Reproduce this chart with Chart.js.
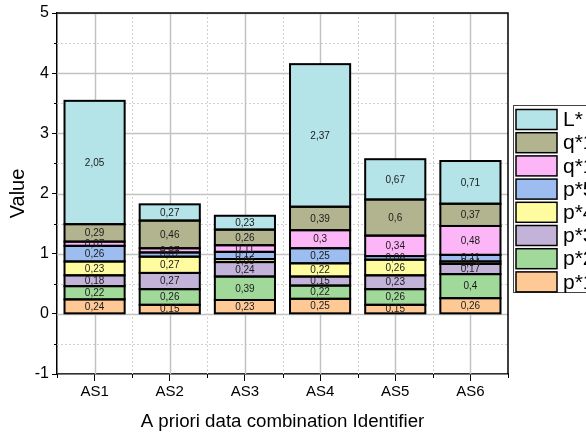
<!DOCTYPE html>
<html>
<head>
<meta charset="utf-8">
<script src="https://cdn.jsdelivr.net/npm/chart.js@4/dist/chart.umd.min.js"></script>
<style>
  html, body { margin: 0; padding: 0; background: #fff; }
  #wrap { width: 586px; height: 434px; }
</style>
</head>
<body>
<div id="wrap"><canvas id="c" width="586" height="434"></canvas></div>
<script>
// Stacked components per data combination (bottom to top)
const categories = ['AS1', 'AS2', 'AS3', 'AS4', 'AS5', 'AS6'];
const p1  = [0.24, 0.15, 0.23, 0.25, 0.15, 0.26];
const p2  = [0.22, 0.26, 0.39, 0.22, 0.26, 0.40];
const p3  = [0.18, 0.27, 0.24, 0.15, 0.23, 0.17];
const p4  = [0.23, 0.27, 0.05, 0.22, 0.26, 0.04];
const p5  = [0.26, 0.07, 0.12, 0.25, 0.06, 0.11];
const q11 = [0.07, 0.07, 0.11, 0.30, 0.34, 0.48];
const q12 = [0.29, 0.46, 0.26, 0.39, 0.60, 0.37];
const Ls  = [2.05, 0.27, 0.23, 2.37, 0.67, 0.71];
const seriesNames = ['p*1', 'p*2', 'p*3', 'p*4', 'p*5', 'q*11', 'q*12', 'L*'];
const seriesColors = ['#ffc996', '#a1d99b', '#c3b3d8', '#fffca0', '#9dbcf0', '#fcb5f6', '#b1b48f', '#b4e3e8'];
const yMin = -1, yMax = 5;

const FONT = "'Liberation Sans', Arial, sans-serif";
const seriesValues = [p1, p2, p3, p4, p5, q11, q12, Ls];

const datasets = seriesNames.map((name, i) => ({
  label: name,
  data: seriesValues[i],
  backgroundColor: seriesColors[i],
  borderWidth: 0,
  barPercentage: 0.8,
  categoryPercentage: 1.0
}));

// Grid lines: solid at majors, dotted at minors
const gridPlugin = {
  id: 'gridLines',
  beforeDatasetsDraw(chart) {
    const { ctx, chartArea: a, scales: { x, y } } = chart;
    ctx.save();
    ctx.beginPath();
    ctx.rect(a.left, a.top, a.right - a.left, a.bottom - a.top);
    ctx.clip();
    // horizontal
    for (let v = yMin; v <= yMax; v += 0.5) {
      const py = Math.round(y.getPixelForValue(v)) + 0.5;
      const major = Number.isInteger(v);
      ctx.beginPath();
      ctx.setLineDash(major ? [] : [2, 2]);
      ctx.lineWidth = major ? 1.5 : 1;
      ctx.strokeStyle = major ? '#c2c2c2' : '#d0d0d0';
      ctx.moveTo(a.left, py);
      ctx.lineTo(a.right, py);
      ctx.stroke();
    }
    // vertical
    const n = categories.length;
    for (let i = 0; i < n; i++) {
      const px = Math.round(x.getPixelForValue(i)) + 0.5;
      ctx.beginPath();
      ctx.setLineDash([]);
      ctx.lineWidth = 1.5;
      ctx.strokeStyle = '#c2c2c2';
      ctx.moveTo(px, a.top);
      ctx.lineTo(px, a.bottom);
      ctx.stroke();
      if (i < n - 1) {
        const bx = Math.round((x.getPixelForValue(i) + x.getPixelForValue(i + 1)) / 2) + 0.5;
        ctx.beginPath();
        ctx.setLineDash([2, 2]);
        ctx.lineWidth = 1;
        ctx.strokeStyle = '#d0d0d0';
        ctx.moveTo(bx, a.top);
        ctx.lineTo(bx, a.bottom);
        ctx.stroke();
      }
    }
    ctx.restore();
  }
};

// Segment outlines centred on edges, then value labels
const segmentPlugin = {
  id: 'segments',
  afterDatasetsDraw(chart) {
    const { ctx } = chart;
    ctx.save();
    ctx.strokeStyle = '#000';
    ctx.lineWidth = 2;
    chart.data.datasets.forEach((ds, di) => {
      chart.getDatasetMeta(di).data.forEach(el => {
        const { x, y, base, width } = el.getProps(['x', 'y', 'base', 'width'], true);
        ctx.strokeRect(x - width / 2, Math.min(y, base), width, Math.abs(base - y));
      });
    });
    ctx.fillStyle = '#1a1a1a';
    ctx.font = '10px ' + FONT;
    ctx.textAlign = 'center';
    ctx.textBaseline = 'middle';
    chart.data.datasets.forEach((ds, di) => {
      chart.getDatasetMeta(di).data.forEach((el, j) => {
        const { x, y, base } = el.getProps(['x', 'y', 'base'], true);
        const txt = String(ds.data[j]).replace('.', ',');
        ctx.fillText(txt, x, (y + base) / 2 + 0.5);
      });
    });
    ctx.restore();
  }
};

// Frame, minor ticks and legend
const framePlugin = {
  id: 'frame',
  afterDraw(chart) {
    const { ctx, chartArea: a, scales: { x, y } } = chart;
    ctx.save();
    ctx.strokeStyle = '#000';
    ctx.lineWidth = 1.5;
    ctx.beginPath();
    ctx.moveTo(a.left, a.top);
    ctx.lineTo(a.right, a.top);
    ctx.lineTo(a.right, a.bottom);
    ctx.stroke();
    // minor ticks
    ctx.lineWidth = 1;
    for (let v = yMin + 0.5; v < yMax; v += 1) {
      const py = Math.round(y.getPixelForValue(v)) + 0.5;
      ctx.beginPath();
      ctx.moveTo(a.left - 3, py);
      ctx.lineTo(a.left, py);
      ctx.stroke();
    }
    const n = categories.length;
    for (let i = 0; i <= n; i++) {
      let bx;
      if (i === 0) bx = a.left;
      else if (i === n) bx = a.right;
      else bx = (x.getPixelForValue(i - 1) + x.getPixelForValue(i)) / 2;
      bx = Math.round(bx) + 0.5;
      ctx.beginPath();
      ctx.moveTo(bx, a.bottom);
      ctx.lineTo(bx, a.bottom + 4);
      ctx.stroke();
    }
    // legend (top entry = last series)
    const lx = 513.5, ly = 105.5;
    ctx.fillStyle = '#fff';
    ctx.fillRect(lx, ly, 100, 187);
    ctx.strokeStyle = '#444';
    ctx.lineWidth = 1;
    ctx.strokeRect(lx, ly, 100, 187);
    ctx.font = '21px ' + FONT;
    ctx.textAlign = 'left';
    ctx.textBaseline = 'middle';
    const order = seriesNames.map((_, i) => i).reverse();
    order.forEach((si, k) => {
      const top = 109.5 + k * 23.2;
      ctx.fillStyle = seriesColors[si];
      ctx.fillRect(516, top, 41, 20);
      ctx.strokeStyle = '#000';
      ctx.lineWidth = 1.5;
      ctx.strokeRect(516, top, 41, 20);
      ctx.fillStyle = '#000';
      ctx.fillText(seriesNames[si], 563, top + 11);
    });
    ctx.restore();
  }
};

new Chart(document.getElementById('c'), {
  type: 'bar',
  data: { labels: categories, datasets },
  options: {
    responsive: false,
    devicePixelRatio: 1,
    animation: false,
    layout: { padding: { top: 13, right: 78, bottom: 0, left: 0 } },
    plugins: { legend: { display: false }, tooltip: { enabled: false } },
    scales: {
      x: {
        stacked: true,
        offset: true,
        grid: { offset: false, drawOnChartArea: false, tickLength: 7, color: '#000', tickWidth: 1 },
        border: { color: '#000', width: 1.5 },
        ticks: { font: { family: FONT, size: 15 }, color: '#000', padding: 2 },
        title: {
          display: true,
          text: 'A priori data combination Identifier',
          font: { family: FONT, size: 18.7 },
          color: '#000',
          padding: { top: 0, bottom: 1 }
        },
        afterFit(s) { s.height = 60; }
      },
      y: {
        stacked: true,
        min: yMin,
        max: yMax,
        ticks: { stepSize: 1, font: { family: FONT, size: 16 }, color: '#000', padding: 3 },
        grid: { drawOnChartArea: false, tickLength: 5, color: '#000', tickWidth: 1 },
        border: { color: '#000', width: 1.5 },
        title: {
          display: true,
          text: 'Value',
          font: { family: FONT, size: 20 },
          color: '#000',
          padding: { top: 6, bottom: 0 }
        },
        afterFit(s) { s.width = 57; }
      }
    }
  },
  plugins: [gridPlugin, segmentPlugin, framePlugin]
});
</script>
</body>
</html>
